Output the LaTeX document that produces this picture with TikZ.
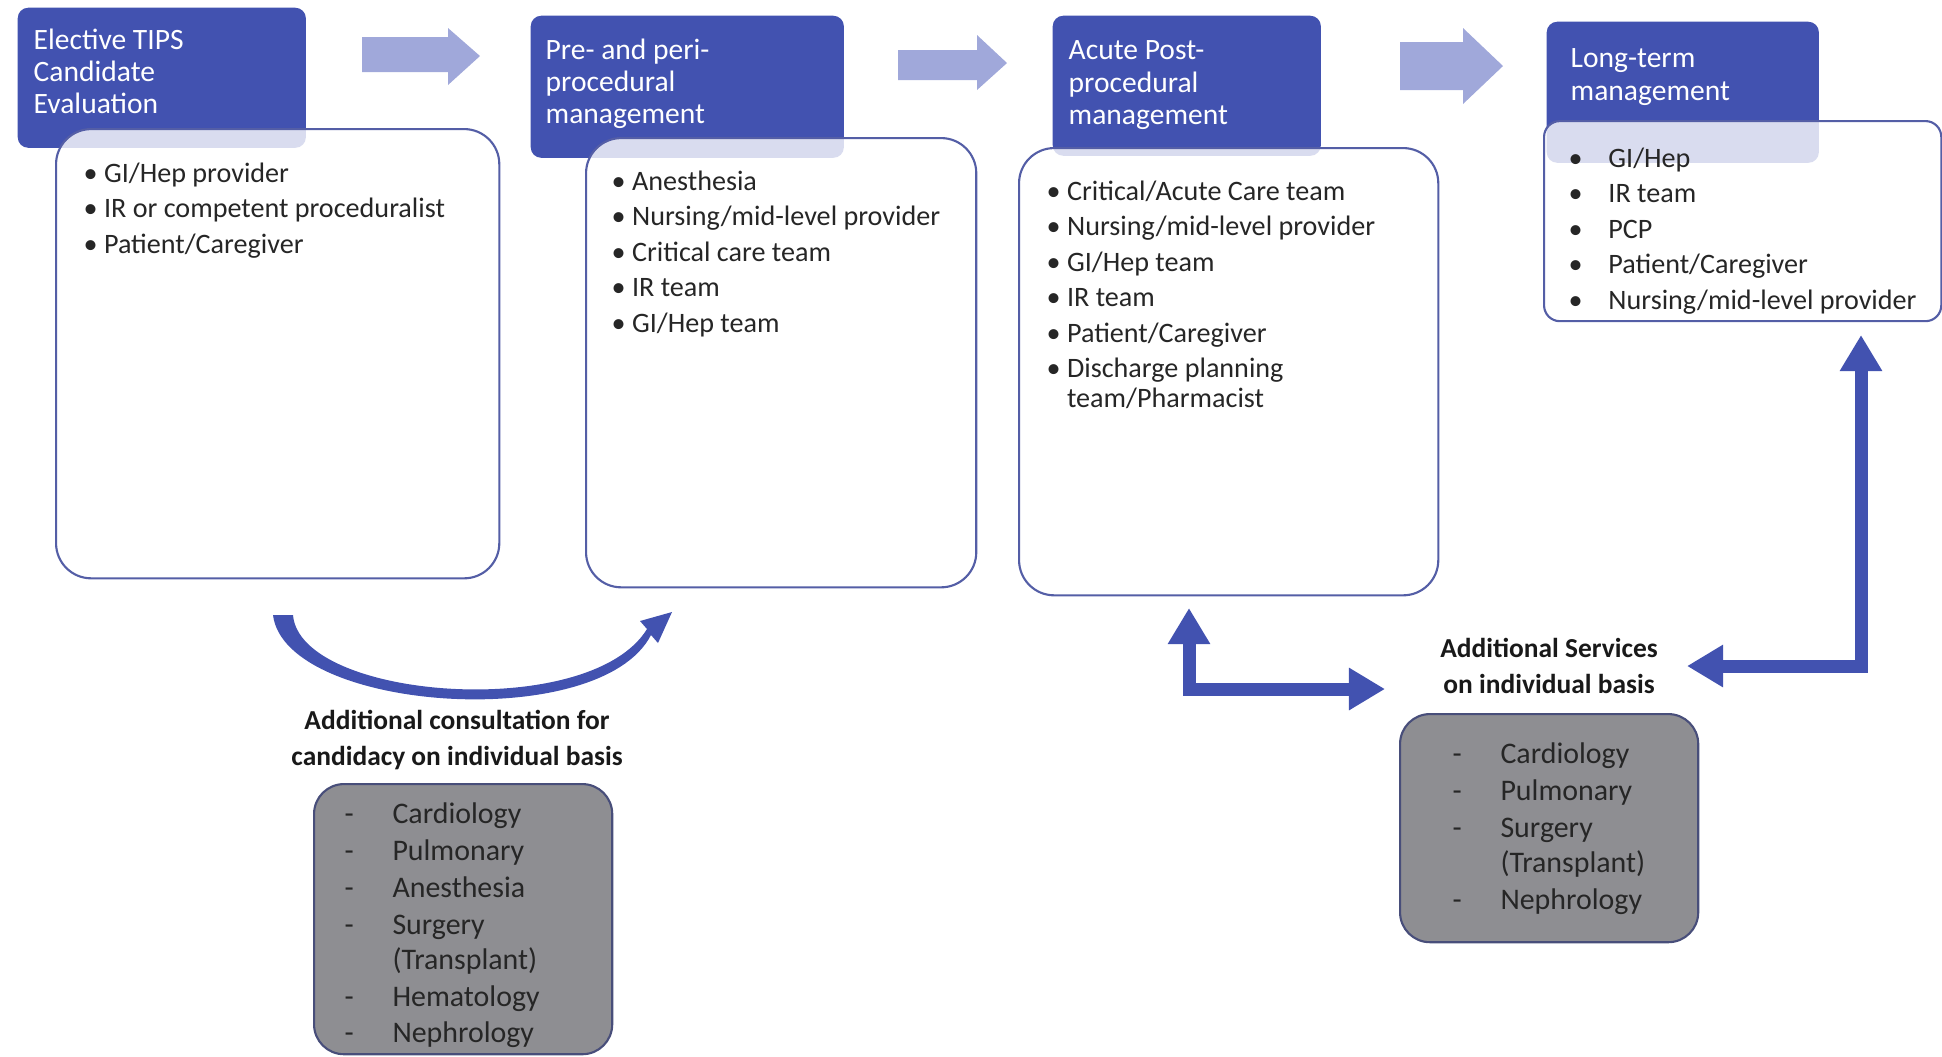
\documentclass[tikz,border=0pt]{standalone}
\usepackage{fontspec}
\setmainfont{Carlito}
\usepackage{tikz}
\usetikzlibrary{arrows.meta}
\definecolor{tipsblue}{RGB}{66, 82, 176}
\definecolor{tipslight}{RGB}{160, 168, 218}
\definecolor{tipsedge}{RGB}{84, 94, 166}
\definecolor{tipsgray}{RGB}{142, 142, 146}
\definecolor{tipsgrayedge}{RGB}{72, 78, 122}
\newcommand{\gdash}{\makebox[13.6pt][l]{-}}
\newcommand{\lbul}{\makebox[11.3pt][l]{\textbullet}}

\begin{document}
\begin{tikzpicture}[
  x=0.01cm, y=-0.01cm,
  headbox/.style={fill=tipsblue, rounded corners=3pt, anchor=north west, inner sep=0pt},
  bodybox/.style={draw=tipsedge, line width=0.6pt, fill=white, fill opacity=0.8,
                  rounded corners=10pt, anchor=north west, inner sep=0pt},
  greybox/.style={draw=tipsgrayedge, line width=0.6pt, fill=tipsgray,
                  rounded corners=8.5pt, anchor=north west, inner sep=0pt},
  headtxt/.style={font=\fontsize{8.4}{9.2}\selectfont, text=white, align=left,
                  anchor=north west, inner sep=0pt},
  listtxt/.style={font=\fontsize{8}{10.1}\selectfont, text=black!85, align=left,
                  anchor=north west, inner sep=0pt},
  greytxt/.style={font=\fontsize{8.5}{10.5}\selectfont, text=black!85, align=left,
                  anchor=north west, inner sep=0pt},
  boldtxt/.style={font=\bfseries\fontsize{7.8}{10}\selectfont, text=black!90, align=center},
  lightarr/.style={fill=tipslight},
  fatarr/.style={draw=tipsblue, line width=0.13cm,
    {Triangle[width=0.4cm,length=0.36cm]}-{Triangle[width=0.4cm,length=0.36cm]}}
]
\useasboundingbox (0,0) rectangle (1942,1056);

\node[headbox, minimum width=2.88cm, minimum height=1.40cm] (head1) at (17,7) {};
\node[headbox, minimum width=3.13cm, minimum height=1.42cm] (head2) at (530,15) {};
\node[headbox, minimum width=2.68cm, minimum height=1.40cm] (head3) at (1052,15) {};
\node[headbox, minimum width=2.72cm, minimum height=1.41cm] (head4) at (1546,21) {};

\node[bodybox, minimum width=4.43cm, minimum height=4.49cm] (body1) at (55,128) {};
\node[bodybox, minimum width=3.90cm, minimum height=4.49cm] (body2) at (585,137) {};
\node[bodybox, minimum width=4.19cm, minimum height=4.47cm] (body3) at (1018,147) {};
\node[bodybox, minimum width=3.97cm, minimum height=2.00cm, rounded corners=4.5pt] (body4) at (1543,120) {};

\node[headtxt] (title1) at (33,28) {Elective TIPS\\Candidate\\Evaluation};
\node[headtxt] (title2) at (545,38) {Pre- and peri-\\procedural\\management};
\node[headtxt] (title3) at (1068,40) {Acute Post-\\procedural\\management};
\node[headtxt] (title4) at (1570,48) {Long-term\\management};

\node[listtxt] (list1) at (83,162) {\textbullet\ GI/Hep provider\\
  \textbullet\ IR or competent proceduralist\\
  \textbullet\ Patient/Caregiver};
\node[listtxt] (list2) at (611,170) {\textbullet\ Anesthesia\\
  \textbullet\ Nursing/mid-level provider\\
  \textbullet\ Critical care team\\
  \textbullet\ IR team\\
  \textbullet\ GI/Hep team};
\node[listtxt] (list3) at (1046,180) {\textbullet\ Critical/Acute Care team\\
  \textbullet\ Nursing/mid-level provider\\
  \textbullet\ GI/Hep team\\
  \textbullet\ IR team\\
  \textbullet\ Patient/Caregiver\\
  \textbullet\ Discharge planning\\[-1.7pt]
  \hphantom{\textbullet\ }team/Pharmacist};
\node[listtxt] (list4) at (1568,147) {\lbul GI/Hep\\
  \lbul IR team\\
  \lbul PCP\\
  \lbul Patient/Caregiver\\
  \lbul Nursing/mid-level provider};

\fill[lightarr] (362,37) -- (448,37) -- (448,28) -- (480,56) -- (448,85) -- (448,72) -- (362,72) -- cycle;
\fill[lightarr] (898,50) -- (977,50) -- (977,35) -- (1007,63) -- (977,90) -- (977,80) -- (898,80) -- cycle;
\fill[lightarr] (1400,42) -- (1463,42) -- (1463,28) -- (1503,66) -- (1463,104) -- (1463,90) -- (1400,90) -- cycle;

\fill[tipsblue] (273,615) .. controls (285,712) and (600,734) .. (651,635) -- (658,643) -- (672,612)
  -- (640,621) -- (647,629) .. controls (590,722) and (300,700) .. (293,615) -- cycle;

\node[boldtxt] (consult) at (457,740) {Additional consultation for\\candidacy on individual basis};
\node[greybox, minimum width=2.98cm, minimum height=2.70cm] (consultbox) at (313,783) {};
\node[greytxt] (consultlist) at (344,802) {\gdash Cardiology\\
  \gdash Pulmonary\\
  \gdash Anesthesia\\
  \gdash Surgery\\[-0.6pt]
  \hphantom{\gdash}(Transplant)\\
  \gdash Hematology\\
  \gdash Nephrology};

\node[boldtxt] (svcs) at (1549,666) {Additional Services\\on individual basis};
\node[greybox, minimum width=2.98cm, minimum height=2.28cm] (svcsbox) at (1399,713) {};
\node[greytxt] (svcslist) at (1452,742) {\gdash Cardiology\\
  \gdash Pulmonary\\
  \gdash Surgery\\[-0.6pt]
  \hphantom{\gdash}(Transplant)\\
  \gdash Nephrology};

\coordinate (acutein) at (1189,608);
\coordinate (svcsleft) at (1385,689);
\coordinate (svcsright) at (1687,666);
\coordinate (longin) at (1861,335);
\draw[fatarr] (acutein) |- (svcsleft);
\draw[fatarr] (svcsright) -| (longin);

\end{tikzpicture}
\end{document}
